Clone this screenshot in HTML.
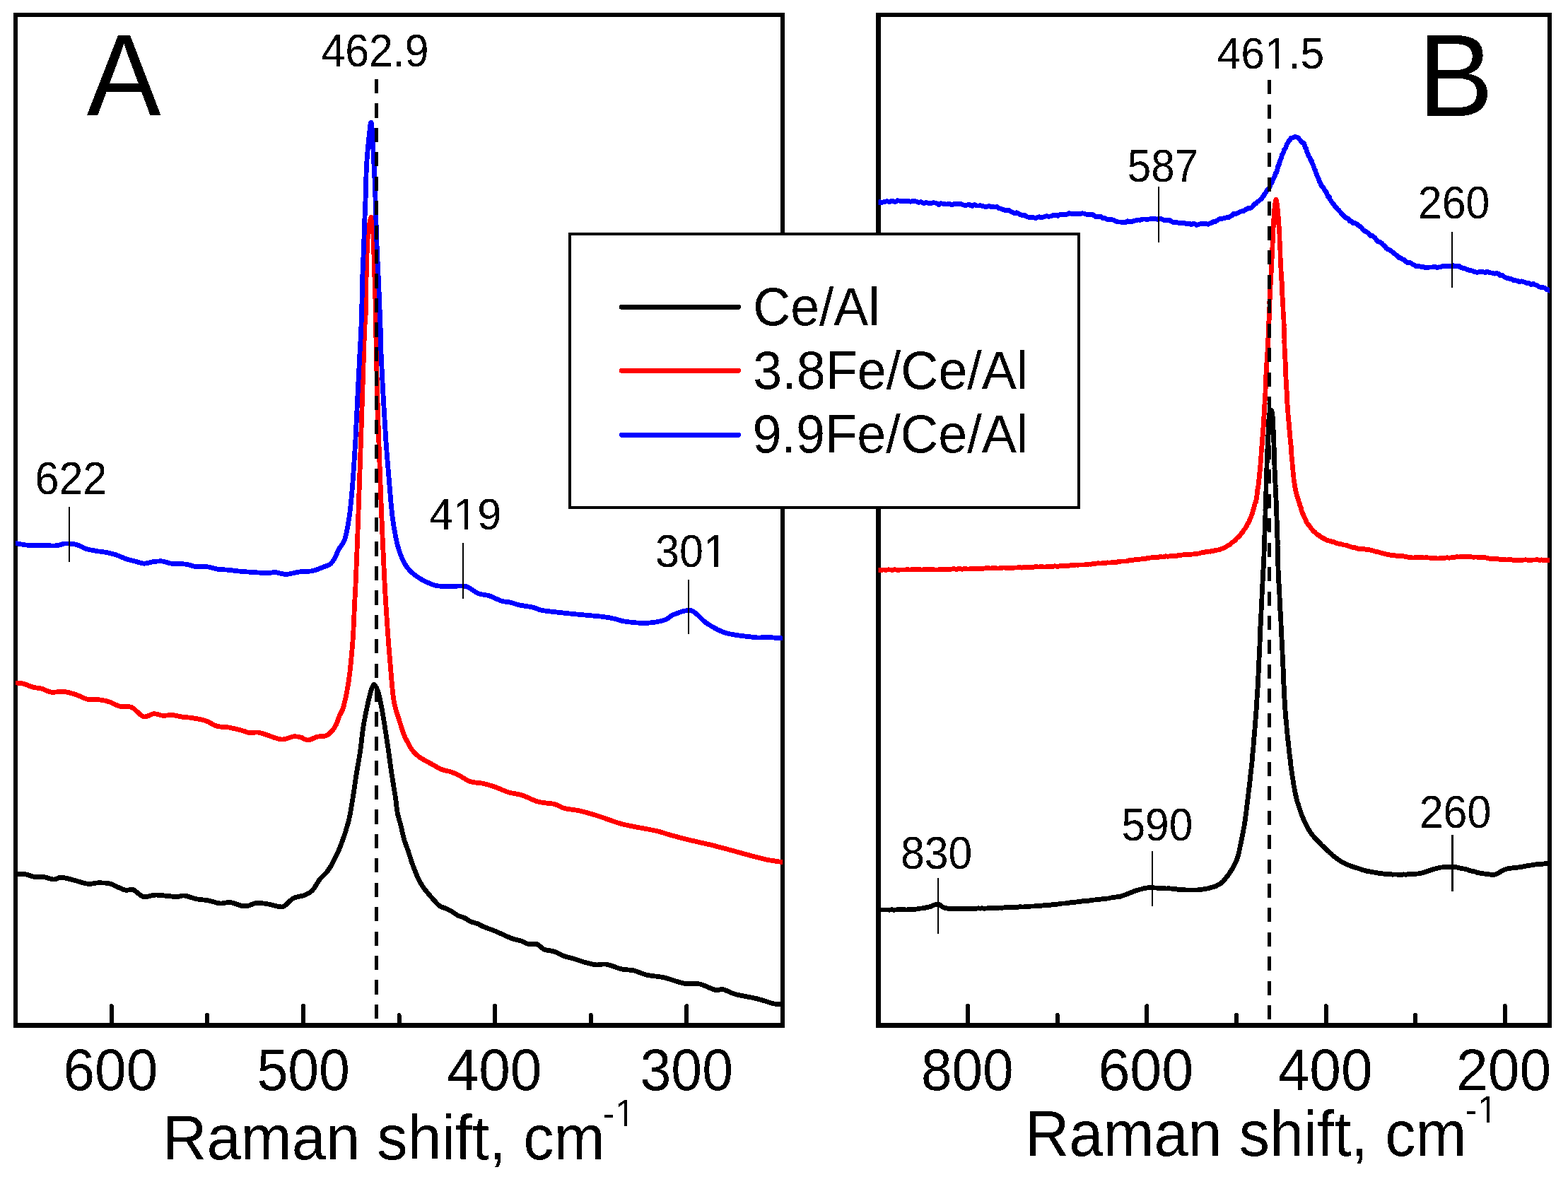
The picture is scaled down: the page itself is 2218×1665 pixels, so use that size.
<!DOCTYPE html>
<html><head><meta charset="utf-8"><title>Raman spectra</title>
<style>html,body{margin:0;padding:0;background:#fff;overflow:hidden}svg{display:block}</style>
</head><body>
<svg width="2218" height="1665" viewBox="0 0 2218 1665" shape-rendering="crispEdges">
<rect x="0" y="0" width="2218" height="1665" fill="#fff"/>
<defs><clipPath id="cl"><rect x="22" y="21" width="1085" height="1429"/></clipPath><clipPath id="cr"><rect x="1242.5" y="21" width="949.5" height="1429"/></clipPath><filter id="bin" x="-2%" y="-2%" width="104%" height="104%" color-interpolation-filters="sRGB"><feComponentTransfer><feFuncA type="discrete" tableValues="0 1"/></feComponentTransfer></filter></defs>
<line x1="157.6" y1="1423" x2="157.6" y2="1450" stroke="#000" stroke-width="6" stroke-linecap="round"/>
<line x1="428.9" y1="1423" x2="428.9" y2="1450" stroke="#000" stroke-width="6" stroke-linecap="round"/>
<line x1="700.1" y1="1423" x2="700.1" y2="1450" stroke="#000" stroke-width="6" stroke-linecap="round"/>
<line x1="971.4" y1="1423" x2="971.4" y2="1450" stroke="#000" stroke-width="6" stroke-linecap="round"/>
<line x1="293.2" y1="1436" x2="293.2" y2="1450" stroke="#000" stroke-width="6" stroke-linecap="round"/>
<line x1="564.5" y1="1436" x2="564.5" y2="1450" stroke="#000" stroke-width="6" stroke-linecap="round"/>
<line x1="835.8" y1="1436" x2="835.8" y2="1450" stroke="#000" stroke-width="6" stroke-linecap="round"/>
<line x1="1369.2" y1="1423" x2="1369.2" y2="1450" stroke="#000" stroke-width="6" stroke-linecap="round"/>
<line x1="1622.4" y1="1423" x2="1622.4" y2="1450" stroke="#000" stroke-width="6" stroke-linecap="round"/>
<line x1="1875.6" y1="1423" x2="1875.6" y2="1450" stroke="#000" stroke-width="6" stroke-linecap="round"/>
<line x1="2128.8" y1="1423" x2="2128.8" y2="1450" stroke="#000" stroke-width="6" stroke-linecap="round"/>
<line x1="1495.8" y1="1436" x2="1495.8" y2="1450" stroke="#000" stroke-width="6" stroke-linecap="round"/>
<line x1="1749.0" y1="1436" x2="1749.0" y2="1450" stroke="#000" stroke-width="6" stroke-linecap="round"/>
<line x1="2002.2" y1="1436" x2="2002.2" y2="1450" stroke="#000" stroke-width="6" stroke-linecap="round"/>
<rect x="19" y="18" width="1091" height="6" fill="#000"/>
<rect x="19" y="1447" width="1091" height="7" fill="#000"/>
<rect x="19" y="18" width="6" height="1436" fill="#000"/>
<rect x="1104" y="18" width="6" height="1436" fill="#000"/>
<rect x="1239" y="18" width="956" height="6" fill="#000"/>
<rect x="1239" y="1447" width="956" height="7" fill="#000"/>
<rect x="1239" y="18" width="7" height="1436" fill="#000"/>
<rect x="2189" y="18" width="6" height="1436" fill="#000"/>
<path d="M22.0,1236.4 C24.1,1236.4 30.1,1235.7 34.6,1236.4 C39.1,1237.1 44.6,1239.8 49.1,1240.5 C53.6,1241.2 57.1,1239.9 61.6,1240.5 C66.1,1241.1 71.9,1244.0 76.1,1244.1 C80.2,1244.2 82.0,1241.1 86.5,1241.2 C91.0,1241.3 97.0,1243.2 103.2,1244.7 C109.5,1246.2 118.1,1249.6 124.0,1250.3 C129.9,1251.0 133.3,1249.0 138.5,1248.9 C143.7,1248.8 150.7,1249.0 155.2,1249.9 C159.7,1250.8 161.8,1252.9 165.6,1254.5 C169.4,1256.1 174.2,1258.6 178.0,1259.3 C181.8,1260.0 184.2,1257.0 188.4,1258.6 C192.6,1260.1 197.8,1267.3 203.0,1268.6 C208.2,1269.8 213.7,1266.3 219.6,1266.1 C225.5,1265.9 233.1,1267.2 238.3,1267.6 C243.5,1268.0 247.0,1268.7 250.8,1268.6 C254.6,1268.5 256.7,1266.5 261.2,1267.0 C265.7,1267.5 272.2,1270.6 277.8,1271.7 C283.4,1272.8 288.9,1272.8 294.5,1273.8 C300.1,1274.8 305.9,1277.5 311.1,1278.0 C316.3,1278.5 320.5,1275.9 325.7,1276.5 C330.9,1277.1 338.1,1280.7 342.3,1281.5 C346.5,1282.3 347.1,1282.2 350.6,1281.5 C354.1,1280.8 358.2,1277.8 363.1,1277.4 C368.0,1277.0 374.1,1278.1 379.7,1279.0 C385.2,1279.9 392.6,1282.4 396.4,1282.8 C400.2,1283.2 399.5,1283.5 402.6,1281.5 C405.7,1279.5 410.2,1273.3 415.1,1270.7 C420.0,1268.1 427.2,1268.0 431.7,1266.1 C436.2,1264.2 438.6,1263.0 442.1,1259.3 C445.6,1255.6 449.2,1247.9 452.5,1243.7 C455.8,1239.5 459.1,1237.7 462.0,1234.0 C464.9,1230.3 466.8,1227.8 470.1,1221.5 C473.4,1215.2 478.1,1206.0 481.9,1196.2 C485.7,1186.4 490.0,1173.7 492.9,1162.4 C495.8,1151.2 497.2,1139.9 499.1,1128.7 C501.0,1117.5 502.4,1106.2 504.2,1095.0 C506.0,1083.8 508.2,1072.5 509.8,1061.2 C511.4,1050.0 512.2,1038.8 514.0,1027.5 C515.8,1016.2 518.9,1002.1 520.7,993.7 C522.5,985.3 523.5,981.1 524.9,976.9 C526.3,972.7 527.7,968.5 529.2,968.5 C530.8,968.5 532.7,972.7 534.2,976.9 C535.7,981.1 536.7,985.3 538.4,993.7 C540.1,1002.1 542.5,1016.2 544.3,1027.5 C546.1,1038.8 547.8,1050.0 549.4,1061.2 C551.0,1072.5 552.4,1083.8 554.1,1095.0 C555.8,1106.2 558.1,1119.5 559.5,1128.7 C560.9,1137.9 560.9,1143.4 562.2,1150.0 C563.5,1156.6 565.6,1162.1 567.1,1168.1 C568.6,1174.1 569.5,1180.2 571.2,1186.2 C572.9,1192.2 575.5,1198.2 577.5,1204.2 C579.5,1210.2 581.2,1216.3 583.4,1222.3 C585.6,1228.3 588.2,1235.1 590.6,1240.4 C593.0,1245.7 594.9,1249.5 597.9,1254.0 C600.9,1258.5 604.8,1263.0 608.7,1267.5 C612.6,1272.0 617.9,1278.2 621.4,1281.1 C624.9,1284.0 627.1,1283.5 630.0,1284.9 C632.9,1286.3 636.0,1287.7 639.0,1289.4 C642.0,1291.1 645.1,1293.8 648.1,1295.3 C651.1,1296.8 654.1,1297.1 657.1,1298.5 C660.1,1299.9 663.2,1302.6 666.2,1303.9 C669.2,1305.2 672.2,1305.4 675.2,1306.6 C678.2,1307.8 680.4,1309.5 684.2,1311.1 C688.0,1312.7 693.3,1314.3 697.8,1316.1 C702.3,1317.9 706.9,1320.0 711.4,1322.0 C715.9,1324.0 720.4,1326.3 724.9,1327.9 C729.4,1329.5 734.7,1330.2 738.5,1331.5 C742.3,1332.8 744.0,1334.9 747.5,1335.6 C751.0,1336.3 755.5,1334.3 759.3,1335.6 C763.1,1336.9 766.0,1341.5 770.1,1343.2 C774.2,1344.9 779.2,1344.5 783.7,1346.0 C788.2,1347.5 792.8,1350.6 797.3,1352.3 C801.8,1354.0 805.5,1354.3 810.8,1355.9 C816.1,1357.5 823.4,1360.3 828.9,1361.8 C834.4,1363.3 838.7,1364.5 843.5,1364.9 C848.3,1365.3 851.9,1363.2 857.9,1364.2 C863.9,1365.2 873.1,1369.5 879.5,1370.9 C885.9,1372.4 890.2,1371.5 896.2,1372.9 C902.2,1374.3 908.2,1377.6 915.4,1379.3 C922.6,1381.0 930.6,1380.9 939.4,1382.9 C948.2,1384.9 959.7,1389.8 968.1,1391.3 C976.5,1392.8 982.5,1390.5 989.7,1392.0 C996.9,1393.5 1005.6,1398.9 1011.2,1400.2 C1016.8,1401.5 1018.4,1398.7 1023.2,1399.7 C1028.0,1400.7 1032.0,1404.2 1040.0,1406.4 C1048.0,1408.6 1061.9,1410.6 1071.1,1412.9 C1080.3,1415.2 1089.1,1418.7 1095.1,1420.0 C1101.1,1421.3 1105.0,1420.8 1107.0,1421.0" fill="none" stroke="#000" stroke-width="6.8" stroke-linejoin="round" stroke-linecap="round" clip-path="url(#cl)"/>
<path d="M22.1,966.0 C23.8,966.2 28.4,966.0 32.5,967.0 C36.6,968.0 42.5,971.0 47.0,972.2 C51.5,973.4 55.3,973.1 59.5,974.3 C63.7,975.4 66.8,978.4 72.0,979.1 C77.2,979.8 84.8,977.9 90.7,978.5 C96.6,979.1 101.8,980.8 107.3,982.6 C112.8,984.4 118.5,988.1 124.0,989.3 C129.6,990.5 135.4,989.3 140.6,989.9 C145.8,990.5 150.3,991.4 155.2,993.0 C160.0,994.6 164.5,998.0 169.7,999.3 C174.9,1000.6 180.8,998.3 186.4,1000.7 C192.0,1003.1 197.8,1012.3 203.0,1013.8 C208.2,1015.3 213.0,1010.0 217.5,1009.7 C222.0,1009.4 225.5,1011.9 230.0,1012.2 C234.5,1012.5 239.8,1011.3 244.6,1011.7 C249.4,1012.1 255.0,1013.8 259.1,1014.4 C263.2,1015.0 264.3,1014.5 269.5,1015.3 C274.7,1016.1 284.1,1017.4 290.3,1019.4 C296.6,1021.4 301.4,1025.7 307.0,1027.3 C312.6,1028.9 317.4,1027.9 323.6,1029.0 C329.8,1030.1 339.5,1032.7 344.4,1034.0 C349.2,1035.3 349.2,1036.4 352.7,1036.7 C356.2,1037.0 361.0,1035.6 365.2,1036.1 C369.4,1036.6 372.1,1038.1 377.7,1039.8 C383.2,1041.5 392.3,1045.7 398.5,1046.0 C404.7,1046.3 410.6,1042.4 415.1,1041.9 C419.6,1041.4 422.0,1042.1 425.5,1043.0 C429.0,1043.9 432.1,1047.2 435.9,1047.1 C439.7,1047.0 444.2,1043.3 448.4,1042.3 C452.5,1041.3 457.3,1042.2 460.8,1040.9 C464.3,1039.6 466.8,1037.2 469.2,1034.6 C471.6,1032.0 473.6,1028.9 475.4,1025.3 C477.2,1021.7 478.2,1017.4 480.0,1013.0 C481.8,1008.6 484.0,1007.2 486.2,998.8 C488.4,990.4 491.3,977.8 493.4,962.7 C495.5,947.6 497.5,926.5 498.9,908.4 C500.3,890.3 500.8,869.4 501.6,854.2 C502.4,839.0 502.6,837.7 503.5,817.0 C504.4,796.3 505.8,759.1 506.8,730.2 C507.9,701.3 508.8,672.4 509.8,643.5 C510.8,614.6 511.8,585.6 512.7,556.7 C513.7,527.8 514.8,487.9 515.5,470.0 C516.2,452.1 516.6,459.3 517.0,449.4 C517.4,439.5 517.5,423.7 517.8,410.8 C518.1,397.9 518.1,385.1 518.6,372.2 C519.1,359.3 519.4,344.4 520.5,333.6 C521.6,322.8 523.7,307.5 525.0,307.5 C526.3,307.5 527.4,322.8 528.1,333.6 C528.8,344.4 528.8,359.3 529.2,372.2 C529.6,385.1 530.2,397.9 530.6,410.8 C531.0,423.7 531.2,438.1 531.4,449.4 C531.6,460.6 531.5,460.4 531.9,478.3 C532.3,496.2 532.9,529.2 533.7,556.7 C534.5,584.2 535.5,614.6 536.5,643.5 C537.5,672.4 538.6,701.3 539.8,730.2 C541.0,759.1 542.7,796.3 543.7,817.0 C544.7,837.7 544.8,839.0 545.8,854.2 C546.8,869.4 548.1,890.3 549.5,908.4 C550.9,926.5 552.8,949.3 554.0,962.7 C555.2,976.1 555.7,982.1 556.7,989.0 C557.7,995.9 558.8,999.5 560.0,1004.0 C561.2,1008.5 562.0,1010.4 563.9,1016.2 C565.8,1022.0 568.8,1032.8 571.1,1038.8 C573.4,1044.8 575.9,1048.5 577.9,1052.3 C579.9,1056.1 580.9,1058.4 583.3,1061.4 C585.7,1064.4 589.4,1068.0 592.4,1070.4 C595.4,1072.8 598.2,1074.0 601.4,1075.8 C604.6,1077.6 607.5,1079.2 611.4,1081.3 C615.3,1083.4 620.4,1086.7 624.9,1088.5 C629.4,1090.3 634.3,1090.6 638.5,1092.1 C642.7,1093.6 645.8,1095.2 650.3,1097.5 C654.8,1099.8 660.0,1103.9 665.6,1105.7 C671.2,1107.5 677.7,1107.1 683.7,1108.4 C689.7,1109.8 695.8,1111.7 701.8,1113.8 C707.8,1115.9 713.8,1119.2 719.9,1121.0 C726.0,1122.8 731.4,1122.7 738.3,1124.9 C745.2,1127.1 753.7,1132.1 761.4,1134.2 C769.1,1136.3 778.4,1136.1 784.5,1137.6 C790.6,1139.1 792.5,1141.9 798.3,1143.4 C804.0,1144.9 811.3,1145.1 819.0,1146.8 C826.7,1148.5 834.8,1150.8 844.4,1153.8 C854.0,1156.8 867.5,1162.1 876.7,1164.8 C885.9,1167.5 890.9,1168.1 899.7,1169.9 C908.5,1171.7 921.2,1173.7 929.7,1175.7 C938.2,1177.7 942.0,1179.6 950.5,1181.9 C959.0,1184.2 971.2,1187.3 980.4,1189.5 C989.6,1191.7 996.9,1193.1 1005.8,1195.3 C1014.6,1197.5 1024.3,1200.1 1033.5,1202.6 C1042.7,1205.1 1052.8,1208.0 1061.2,1210.2 C1069.7,1212.4 1076.6,1214.4 1084.2,1216.0 C1091.8,1217.6 1103.2,1219.0 1107.0,1219.6" fill="none" stroke="#f00" stroke-width="6.8" stroke-linejoin="round" stroke-linecap="round" clip-path="url(#cl)"/>
<path d="M22.1,768.5 C24.9,769.0 32.8,770.7 38.7,771.2 C44.6,771.7 50.5,771.5 57.4,771.6 C64.3,771.7 74.8,772.2 80.3,771.8 C85.8,771.4 86.9,769.5 90.7,769.1 C94.5,768.7 99.7,769.1 103.2,769.5 C106.7,769.9 108.4,770.5 111.5,771.6 C114.6,772.8 117.8,775.1 121.9,776.4 C126.1,777.7 131.9,778.7 136.4,779.5 C140.9,780.3 144.4,780.3 148.9,781.2 C153.4,782.1 158.7,783.2 163.5,784.7 C168.3,786.2 173.2,788.9 178.0,790.5 C182.8,792.1 188.3,793.4 192.6,794.5 C196.9,795.6 199.8,797.2 204.0,797.2 C208.2,797.2 213.2,795.0 217.5,794.5 C221.8,794.0 225.8,793.5 230.0,794.0 C234.2,794.5 236.9,796.5 242.5,797.2 C248.1,797.9 257.8,797.5 263.3,798.2 C268.9,798.9 270.6,800.7 275.8,801.3 C281.0,801.9 289.0,801.3 294.5,802.0 C300.0,802.7 304.5,804.8 309.0,805.5 C313.5,806.2 316.3,805.6 321.5,806.1 C326.7,806.6 333.6,807.6 340.2,808.2 C346.8,808.8 354.8,809.3 361.0,809.7 C367.2,810.1 372.9,810.7 377.7,810.7 C382.5,810.7 385.5,809.4 390.0,809.7 C394.5,810.0 399.1,812.5 404.7,812.4 C410.3,812.3 417.2,809.8 423.4,809.0 C429.6,808.2 436.6,808.7 442.1,807.6 C447.7,806.5 452.6,804.0 456.7,802.4 C460.8,800.8 464.2,800.3 467.0,798.2 C469.8,796.1 471.2,793.5 473.3,789.9 C475.4,786.3 477.2,780.9 479.6,776.4 C482.0,771.9 485.3,770.5 487.7,762.8 C490.1,755.1 492.4,742.9 494.2,730.2 C496.0,717.6 497.2,705.0 498.6,686.9 C500.1,668.8 501.6,643.5 502.9,621.8 C504.1,600.1 505.0,578.4 506.1,556.7 C507.2,535.0 508.6,506.4 509.4,491.7 C510.2,477.0 510.3,479.0 510.7,468.7 C511.1,458.4 511.5,442.9 511.9,430.0 C512.2,417.1 512.4,404.3 512.8,391.5 C513.2,378.7 513.9,365.9 514.4,353.0 C514.9,340.1 515.2,327.2 515.7,314.3 C516.2,301.4 516.8,288.7 517.3,275.8 C517.8,262.9 517.7,249.9 518.4,237.0 C519.1,224.1 520.3,209.0 521.5,198.6 C522.7,188.2 524.1,168.1 525.4,174.5 C526.7,180.9 528.3,220.1 529.2,237.0 C530.1,253.9 530.3,262.9 530.8,275.8 C531.3,288.7 531.6,301.4 532.0,314.3 C532.4,327.2 532.8,340.1 533.3,353.0 C533.8,365.9 534.6,378.7 535.2,391.5 C535.8,404.3 536.3,417.1 536.8,430.0 C537.3,442.9 538.0,458.4 538.3,468.7 C538.6,479.0 538.1,477.0 538.7,491.7 C539.3,506.4 540.7,535.0 541.9,556.7 C543.1,578.4 544.3,600.1 545.8,621.8 C547.3,643.5 549.5,668.8 551.0,686.9 C552.5,705.0 553.4,717.6 555.0,730.2 C556.6,742.9 558.7,754.5 560.4,762.8 C562.1,771.1 563.0,774.2 565.0,780.0 C567.0,785.8 569.5,792.4 572.4,797.4 C575.3,802.4 578.2,806.0 582.4,809.8 C586.5,813.6 591.5,817.2 597.3,820.3 C603.1,823.4 609.8,827.0 617.2,828.5 C624.7,830.0 635.0,829.0 642.0,829.2 C649.0,829.4 653.7,828.0 659.5,829.7 C665.3,831.5 671.5,837.5 676.9,839.7 C682.3,841.9 686.4,841.0 691.8,842.7 C697.2,844.4 704.2,848.5 709.2,850.1 C714.2,851.7 717.5,851.2 721.6,852.1 C725.7,853.0 728.6,854.6 734.0,855.8 C739.4,857.0 748.5,857.9 753.9,859.1 C759.3,860.4 759.3,862.0 766.4,863.3 C773.5,864.6 787.1,866.0 796.2,867.0 C805.3,868.0 811.5,868.6 821.0,869.5 C830.5,870.4 845.1,871.5 853.4,872.5 C861.7,873.5 865.8,874.6 870.8,875.7 C875.8,876.8 876.2,878.0 883.2,879.0 C890.2,880.0 903.6,881.7 913.1,881.4 C922.6,881.1 933.8,879.0 940.4,877.0 C947.0,875.0 946.6,871.7 952.8,869.5 C959.0,867.3 969.8,861.7 977.7,863.8 C985.6,865.9 991.8,876.7 1000.1,882.0 C1008.4,887.3 1015.8,892.3 1027.4,895.6 C1039.0,898.9 1060.6,900.8 1069.7,901.8 C1078.8,902.8 1075.9,901.1 1082.1,901.3 C1088.3,901.5 1102.8,902.7 1107.0,903.0" fill="none" stroke="#00f" stroke-width="6.8" stroke-linejoin="round" stroke-linecap="round" clip-path="url(#cl)"/>
<path d="M1242.6,1287.0 L1244.0,1287.0 L1245.9,1287.0 L1247.9,1287.0 L1250.1,1287.0 L1252.7,1287.1 L1255.3,1286.9 L1258.1,1287.2 L1261.2,1286.7 L1264.3,1287.2 L1267.3,1287.0 L1270.2,1286.6 L1273.3,1286.6 L1276.2,1286.7 L1279.0,1286.8 L1281.8,1287.0 L1284.4,1286.8 L1286.7,1286.7 L1288.8,1286.4 L1292.6,1286.6 L1296.0,1286.1 L1298.9,1285.5 L1301.7,1285.1 L1304.4,1284.9 L1306.8,1284.5 L1309.0,1284.3 L1311.0,1283.5 L1313.3,1283.3 L1316.7,1282.3 L1319.3,1281.3 L1321.9,1280.0 L1324.1,1279.2 L1326.8,1279.3 L1328.8,1279.6 L1330.4,1280.8 L1332.4,1282.4 L1335.3,1284.0 L1340.0,1285.1 L1341.8,1285.2 L1343.7,1285.2 L1345.8,1285.2 L1348.3,1285.6 L1350.5,1285.7 L1353.0,1285.4 L1355.7,1285.6 L1358.2,1285.8 L1361.0,1285.3 L1364.0,1285.3 L1366.7,1285.1 L1369.5,1285.4 L1372.5,1285.3 L1375.4,1285.2 L1378.4,1285.2 L1381.1,1285.3 L1383.7,1284.8 L1386.6,1285.2 L1389.0,1284.8 L1391.6,1285.2 L1394.0,1285.1 L1396.7,1284.8 L1399.2,1284.5 L1401.6,1284.9 L1404.2,1284.7 L1406.8,1284.7 L1409.5,1284.3 L1412.0,1284.4 L1414.5,1284.0 L1417.2,1284.3 L1419.8,1283.9 L1422.5,1283.7 L1424.9,1283.6 L1427.6,1283.4 L1430.1,1283.5 L1432.7,1283.2 L1435.3,1283.5 L1438.0,1283.3 L1440.5,1283.1 L1442.9,1282.6 L1445.5,1283.0 L1448.2,1282.9 L1450.6,1282.6 L1453.3,1282.5 L1455.8,1282.5 L1458.3,1282.0 L1461.0,1282.1 L1463.6,1281.8 L1466.2,1281.8 L1468.6,1281.4 L1471.3,1281.4 L1473.8,1281.1 L1476.5,1280.8 L1479.0,1280.5 L1481.5,1280.4 L1484.0,1280.2 L1486.8,1280.1 L1489.3,1279.6 L1491.9,1279.4 L1494.4,1279.3 L1496.9,1279.0 L1499.4,1278.6 L1502.1,1278.1 L1504.7,1278.0 L1507.3,1278.0 L1509.8,1277.1 L1512.4,1277.2 L1514.9,1276.6 L1517.7,1276.6 L1520.1,1276.5 L1522.7,1276.0 L1525.2,1275.6 L1527.9,1275.6 L1530.5,1274.9 L1533.0,1274.6 L1535.5,1274.4 L1538.3,1274.3 L1541.0,1274.1 L1543.7,1273.3 L1546.5,1273.1 L1549.2,1272.9 L1552.1,1272.6 L1554.8,1272.5 L1557.7,1272.0 L1560.2,1271.4 L1563.1,1271.1 L1565.7,1271.1 L1568.2,1270.9 L1570.6,1270.2 L1573.1,1269.8 L1575.5,1269.5 L1577.6,1269.1 L1579.8,1268.9 L1581.8,1268.7 L1585.3,1268.1 L1588.4,1266.8 L1591.1,1265.9 L1593.4,1265.2 L1595.9,1264.1 L1597.9,1263.2 L1600.1,1262.4 L1602.1,1261.7 L1604.0,1261.0 L1606.3,1259.9 L1609.3,1259.3 L1611.8,1258.3 L1614.4,1257.9 L1616.9,1257.0 L1619.6,1256.6 L1622.5,1256.0 L1625.7,1255.5 L1628.1,1255.8 L1630.5,1255.7 L1633.0,1255.9 L1636.0,1256.1 L1638.6,1256.1 L1641.4,1256.4 L1644.4,1256.3 L1647.0,1256.6 L1649.8,1257.0 L1652.5,1256.8 L1655.1,1256.9 L1658.0,1257.2 L1660.7,1257.8 L1663.4,1257.6 L1666.2,1258.2 L1669.0,1258.4 L1671.6,1258.5 L1674.3,1258.5 L1676.7,1258.9 L1679.4,1259.0 L1682.3,1258.9 L1685.1,1259.0 L1687.7,1258.9 L1690.6,1259.1 L1693.2,1259.0 L1696.1,1258.7 L1698.7,1258.3 L1701.3,1258.1 L1703.9,1257.4 L1706.6,1257.2 L1709.0,1256.8 L1711.7,1256.0 L1714.2,1255.1 L1716.7,1254.5 L1719.2,1254.0 L1721.4,1252.7 L1723.6,1251.5 L1725.9,1250.5 L1727.8,1248.7 L1729.6,1247.3 L1731.5,1245.2 L1733.2,1243.2 L1734.6,1241.3 L1736.3,1239.3 L1737.7,1237.4 L1739.0,1235.4 L1740.4,1233.2 L1741.9,1230.8 L1743.4,1228.7 L1744.6,1226.5 L1745.9,1224.0 L1747.0,1221.9 L1748.2,1219.4 L1749.3,1216.7 L1750.4,1213.5 L1751.0,1211.7 L1751.7,1209.1 L1752.2,1207.1 L1752.8,1204.6 L1753.5,1201.4 L1753.9,1199.1 L1754.5,1196.1 L1755.2,1193.7 L1755.7,1190.9 L1756.1,1188.7 L1756.4,1186.1 L1757.0,1184.2 L1757.7,1180.8 L1758.2,1178.6 L1758.6,1176.2 L1759.0,1173.5 L1759.4,1171.1 L1760.0,1168.7 L1760.5,1165.4 L1760.9,1161.8 L1761.4,1160.2 L1761.7,1157.5 L1761.8,1155.7 L1762.2,1153.2 L1762.5,1150.6 L1762.9,1148.0 L1763.2,1145.1 L1763.6,1142.9 L1763.8,1139.9 L1764.3,1137.1 L1764.5,1134.2 L1764.9,1131.3 L1765.3,1128.9 L1765.6,1126.1 L1765.9,1123.1 L1766.2,1120.4 L1766.6,1118.2 L1766.7,1115.9 L1767.1,1113.5 L1767.4,1110.9 L1767.7,1108.9 L1767.9,1106.5 L1768.2,1103.9 L1768.5,1101.4 L1768.6,1099.2 L1768.8,1096.7 L1769.2,1094.4 L1769.4,1092.1 L1769.8,1089.1 L1770.1,1086.5 L1770.3,1083.6 L1770.7,1080.9 L1771.0,1078.0 L1771.3,1074.4 L1771.4,1072.7 L1771.5,1070.3 L1771.7,1067.9 L1772.0,1065.5 L1772.2,1063.6 L1772.5,1061.0 L1772.8,1058.6 L1773.0,1056.1 L1773.2,1053.2 L1773.4,1051.1 L1773.5,1048.6 L1773.7,1045.7 L1773.9,1043.1 L1774.3,1040.2 L1774.6,1037.7 L1774.7,1035.2 L1774.9,1032.3 L1775.1,1029.8 L1775.3,1027.2 L1775.5,1024.1 L1775.7,1021.4 L1775.9,1019.2 L1776.1,1016.6 L1776.4,1013.5 L1776.7,1011.4 L1776.6,1008.8 L1776.9,1006.0 L1777.2,1003.3 L1777.3,1001.2 L1777.5,998.3 L1777.7,996.0 L1777.8,993.0 L1777.9,990.7 L1778.0,987.9 L1778.2,985.4 L1778.4,983.2 L1778.5,980.4 L1778.7,978.0 L1778.9,975.5 L1779.1,973.2 L1779.1,970.2 L1779.1,968.1 L1779.4,965.4 L1779.5,962.6 L1779.7,960.2 L1779.8,957.7 L1780.0,954.9 L1780.0,952.8 L1780.3,950.2 L1780.2,947.2 L1780.4,944.9 L1780.6,942.1 L1780.7,939.6 L1780.7,937.4 L1780.9,934.8 L1781.0,932.2 L1781.1,929.6 L1781.3,927.3 L1781.3,924.4 L1781.6,922.1 L1781.7,919.3 L1781.7,916.8 L1781.9,914.4 L1782.0,912.2 L1782.0,909.4 L1782.2,907.1 L1782.3,904.2 L1782.3,902.0 L1782.4,898.9 L1782.6,896.6 L1782.7,894.0 L1782.9,891.3 L1782.8,889.1 L1782.9,886.4 L1783.2,884.1 L1783.2,881.2 L1783.3,879.0 L1783.4,876.1 L1783.6,873.8 L1783.8,871.5 L1783.9,868.7 L1784.0,866.0 L1784.0,863.5 L1784.3,861.2 L1784.2,858.2 L1784.4,855.6 L1784.5,852.9 L1784.6,850.3 L1784.9,847.6 L1785.0,844.9 L1785.0,842.3 L1785.3,839.4 L1785.3,836.8 L1785.5,834.2 L1785.8,831.6 L1785.8,828.6 L1785.9,826.4 L1785.9,823.4 L1786.2,821.3 L1786.2,818.6 L1786.3,816.2 L1786.6,813.4 L1786.6,811.4 L1786.8,809.0 L1786.9,806.4 L1787.1,804.4 L1787.1,802.1 L1787.3,800.1 L1787.4,796.7 L1787.6,793.9 L1787.7,791.1 L1787.8,788.4 L1788.0,785.6 L1788.0,783.1 L1788.1,780.5 L1788.2,778.0 L1788.3,776.2 L1788.3,773.4 L1788.4,771.2 L1788.5,769.2 L1788.5,766.4 L1788.6,764.2 L1788.9,761.4 L1788.8,758.9 L1789.0,756.4 L1789.0,753.5 L1789.1,751.1 L1789.2,748.8 L1789.4,745.8 L1789.3,743.2 L1789.4,740.7 L1789.5,737.8 L1789.7,735.0 L1789.7,732.4 L1789.9,729.3 L1789.9,726.9 L1790.0,723.8 L1789.9,721.5 L1790.2,718.5 L1790.2,716.0 L1790.2,713.8 L1790.3,710.9 L1790.3,708.8 L1790.4,706.8 L1790.6,704.6 L1790.5,700.8 L1790.7,697.7 L1790.9,695.0 L1790.9,692.6 L1790.9,689.8 L1790.9,687.6 L1791.0,685.3 L1791.2,683.1 L1791.1,680.4 L1791.4,677.9 L1791.4,675.6 L1791.6,673.0 L1791.7,670.2 L1791.7,667.7 L1791.8,664.8 L1791.9,662.3 L1791.9,659.9 L1791.9,657.4 L1792.1,654.5 L1792.1,651.8 L1792.3,649.5 L1792.4,646.8 L1792.4,644.0 L1792.6,641.7 L1792.8,638.9 L1792.8,636.1 L1793.1,633.4 L1793.1,630.9 L1793.1,628.6 L1793.5,625.5 L1793.6,622.9 L1793.6,620.5 L1793.8,617.7 L1793.9,615.2 L1794.0,612.1 L1794.2,609.3 L1794.4,606.5 L1794.5,603.4 L1794.6,600.4 L1794.6,597.7 L1794.8,595.4 L1794.9,592.8 L1795.2,590.8 L1795.2,588.7 L1796.1,583.7 L1797.1,581.0 L1798.1,580.5 L1798.8,581.4 L1799.5,584.2 L1800.1,588.8 L1800.2,590.5 L1800.4,593.0 L1800.7,595.5 L1800.7,598.0 L1800.7,600.5 L1800.9,603.6 L1801.0,606.4 L1801.2,609.5 L1801.4,612.3 L1801.3,615.3 L1801.6,617.8 L1801.6,620.4 L1801.6,623.2 L1801.9,625.7 L1801.9,628.5 L1801.9,631.2 L1802.1,633.4 L1802.1,636.0 L1802.3,638.9 L1802.3,641.7 L1802.4,644.1 L1802.4,647.0 L1802.5,649.6 L1802.7,652.0 L1802.8,654.4 L1802.9,657.5 L1803.0,659.9 L1802.9,662.7 L1803.1,665.3 L1803.1,667.8 L1803.4,670.2 L1803.4,672.7 L1803.4,675.4 L1803.7,678.4 L1803.8,680.4 L1803.9,683.0 L1803.9,685.2 L1804.2,687.2 L1804.1,689.8 L1804.3,692.2 L1804.5,694.8 L1804.6,697.7 L1804.8,700.9 L1804.9,704.2 L1805.0,706.4 L1805.2,708.8 L1805.2,711.0 L1805.3,713.6 L1805.4,716.2 L1805.5,718.9 L1805.6,721.4 L1805.6,723.9 L1805.8,726.9 L1805.9,729.4 L1806.0,732.4 L1806.0,734.7 L1806.2,738.0 L1806.3,740.6 L1806.4,743.2 L1806.5,745.7 L1806.5,748.6 L1806.6,751.2 L1806.6,753.9 L1806.8,756.0 L1806.8,758.9 L1806.9,761.3 L1807.1,764.4 L1807.1,766.7 L1807.1,769.1 L1807.1,771.4 L1807.2,773.8 L1807.1,776.0 L1807.1,778.2 L1807.4,780.3 L1807.2,782.9 L1807.3,785.3 L1807.5,788.3 L1807.5,790.8 L1807.6,793.5 L1807.6,797.0 L1807.8,800.0 L1808.0,802.4 L1808.0,804.1 L1808.0,806.8 L1808.3,808.7 L1808.4,811.1 L1808.4,813.4 L1808.6,816.3 L1808.6,818.6 L1808.7,821.3 L1808.8,823.4 L1809.1,826.1 L1809.3,829.1 L1809.4,831.3 L1809.5,834.4 L1809.6,836.6 L1809.7,839.4 L1810.0,842.0 L1810.0,844.7 L1810.2,847.8 L1810.3,850.4 L1810.6,853.0 L1810.6,855.5 L1810.9,858.4 L1810.8,861.0 L1810.9,863.8 L1811.2,866.2 L1811.3,868.4 L1811.5,871.1 L1811.5,874.0 L1811.6,876.2 L1811.9,878.7 L1811.9,881.4 L1812.0,884.2 L1812.3,886.2 L1812.3,889.2 L1812.4,891.8 L1812.6,893.9 L1812.7,896.7 L1812.8,899.3 L1813.0,901.7 L1813.1,904.5 L1813.2,906.8 L1813.4,909.2 L1813.5,911.7 L1813.6,914.3 L1813.7,917.1 L1813.9,919.7 L1813.9,922.0 L1814.0,924.6 L1814.2,926.9 L1814.3,929.8 L1814.5,932.4 L1814.5,934.5 L1814.6,937.3 L1814.8,939.8 L1814.9,942.6 L1815.0,945.2 L1815.2,947.5 L1815.4,949.9 L1815.3,952.4 L1815.4,955.0 L1815.6,957.7 L1815.6,960.2 L1815.7,962.9 L1815.8,965.1 L1815.9,967.9 L1816.2,970.5 L1816.1,972.9 L1816.3,975.3 L1816.6,977.7 L1816.6,980.7 L1816.8,982.9 L1816.8,985.8 L1816.9,988.0 L1817.2,990.5 L1817.2,993.2 L1817.4,995.6 L1817.5,998.7 L1817.8,1001.1 L1817.8,1003.3 L1818.1,1005.8 L1818.3,1008.8 L1818.5,1011.0 L1818.8,1013.8 L1818.8,1016.3 L1819.2,1018.8 L1819.4,1021.8 L1819.7,1024.4 L1820.0,1027.0 L1820.1,1030.0 L1820.4,1032.6 L1820.6,1035.0 L1820.9,1037.8 L1821.1,1040.3 L1821.4,1043.1 L1821.7,1045.7 L1822.1,1048.5 L1822.4,1050.8 L1822.5,1053.2 L1822.9,1055.9 L1823.1,1058.2 L1823.3,1060.8 L1823.6,1063.6 L1824.0,1065.6 L1824.2,1067.9 L1824.6,1070.3 L1824.8,1072.7 L1825.1,1074.4 L1825.3,1077.8 L1825.7,1081.1 L1826.1,1084.0 L1826.5,1086.5 L1826.9,1089.5 L1827.2,1092.2 L1827.7,1094.8 L1828.0,1097.7 L1828.5,1100.0 L1828.9,1102.6 L1829.3,1105.3 L1829.5,1107.3 L1829.9,1109.9 L1830.3,1112.0 L1830.8,1114.1 L1831.1,1116.2 L1831.4,1118.1 L1831.8,1120.5 L1832.6,1124.0 L1833.4,1126.8 L1834.0,1130.0 L1834.6,1132.5 L1835.4,1135.2 L1836.2,1137.0 L1836.8,1139.2 L1837.5,1141.5 L1838.1,1143.6 L1838.9,1145.8 L1839.8,1148.5 L1840.8,1151.3 L1841.7,1153.9 L1842.7,1155.9 L1843.7,1158.4 L1844.6,1160.8 L1845.8,1163.0 L1846.9,1165.0 L1848.0,1167.4 L1849.0,1169.7 L1850.2,1171.9 L1851.5,1174.0 L1852.8,1176.1 L1854.3,1178.3 L1855.9,1180.3 L1857.2,1182.3 L1858.8,1184.0 L1860.5,1186.2 L1862.2,1187.9 L1864.2,1189.9 L1866.1,1191.9 L1868.1,1193.8 L1869.7,1195.7 L1871.6,1197.2 L1873.4,1198.8 L1875.1,1200.9 L1877.1,1202.7 L1879.3,1204.4 L1881.1,1206.3 L1883.2,1208.0 L1884.9,1209.9 L1886.9,1211.2 L1888.7,1212.9 L1891.0,1214.6 L1893.1,1216.2 L1895.1,1217.3 L1896.9,1218.8 L1898.9,1219.9 L1901.1,1221.0 L1903.5,1222.1 L1905.8,1223.2 L1908.1,1224.1 L1910.5,1224.9 L1913.1,1226.0 L1915.5,1226.7 L1918.2,1227.6 L1921.0,1228.4 L1923.6,1229.2 L1926.3,1230.4 L1929.0,1231.0 L1931.8,1231.7 L1934.2,1232.5 L1936.9,1232.6 L1939.4,1233.4 L1942.1,1233.8 L1944.6,1234.2 L1947.2,1234.6 L1949.6,1235.2 L1952.3,1235.6 L1954.8,1235.7 L1957.4,1236.1 L1960.1,1236.4 L1962.5,1236.4 L1965.2,1236.5 L1967.6,1236.6 L1970.3,1237.2 L1973.0,1236.9 L1975.5,1237.1 L1978.1,1237.1 L1980.7,1237.5 L1983.1,1237.3 L1985.7,1236.9 L1988.3,1237.3 L1991.1,1236.8 L1993.5,1236.7 L1996.1,1236.8 L1998.7,1236.6 L2001.3,1236.7 L2003.8,1236.1 L2006.5,1236.0 L2009.1,1235.3 L2011.6,1234.9 L2014.3,1234.0 L2016.8,1233.2 L2019.7,1232.4 L2022.2,1231.4 L2024.8,1230.5 L2027.4,1229.7 L2030.0,1229.0 L2032.3,1228.4 L2034.7,1227.8 L2037.8,1227.1 L2041.0,1226.8 L2043.8,1226.4 L2046.7,1226.6 L2049.3,1226.4 L2052.0,1226.1 L2054.6,1226.1 L2057.6,1226.4 L2060.6,1226.8 L2063.3,1227.5 L2066.2,1228.2 L2069.1,1228.8 L2071.5,1229.0 L2073.7,1229.6 L2076.2,1230.3 L2078.8,1231.5 L2081.3,1232.1 L2083.7,1232.6 L2086.4,1233.1 L2088.8,1234.2 L2091.4,1234.7 L2093.9,1235.3 L2096.6,1235.8 L2099.1,1235.9 L2101.4,1236.4 L2103.5,1236.7 L2106.9,1236.9 L2109.7,1237.3 L2112.5,1237.3 L2115.5,1237.0 L2117.6,1236.1 L2119.8,1234.7 L2122.1,1233.4 L2124.2,1232.1 L2126.8,1230.7 L2129.3,1229.9 L2131.8,1229.0 L2134.3,1228.4 L2137.0,1228.2 L2139.8,1227.8 L2143.0,1227.3 L2146.4,1227.2 L2148.6,1226.8 L2151.1,1226.3 L2153.6,1226.1 L2156.4,1225.6 L2159.1,1224.9 L2161.9,1224.3 L2164.6,1224.2 L2167.4,1223.7 L2169.7,1223.3 L2172.3,1222.9 L2175.5,1222.6 L2178.9,1222.1 L2182.2,1222.2 L2185.3,1221.7 L2188.0,1221.4 L2190.2,1221.4 L2192.0,1221.0" fill="none" stroke="#000" stroke-width="6.8" stroke-linejoin="round" stroke-linecap="round" clip-path="url(#cr)"/>
<path d="M1242.6,806.4 L1244.2,806.8 L1245.8,805.9 L1247.6,806.3 L1249.7,806.0 L1251.9,806.2 L1254.4,806.2 L1256.9,805.8 L1259.9,806.1 L1262.6,806.4 L1265.5,805.7 L1268.6,806.2 L1271.6,806.2 L1274.7,805.9 L1277.6,805.9 L1280.4,806.1 L1283.2,805.5 L1286.1,806.1 L1288.8,805.8 L1291.4,805.6 L1293.7,805.7 L1296.5,805.5 L1298.8,805.4 L1301.3,805.6 L1304.1,806.1 L1306.6,805.6 L1309.1,805.5 L1311.9,805.8 L1314.3,805.3 L1317.1,805.9 L1319.7,805.4 L1322.2,806.0 L1324.8,806.0 L1327.2,806.0 L1329.8,805.4 L1332.4,805.8 L1335.2,805.9 L1337.8,805.8 L1340.3,805.8 L1342.9,805.1 L1345.6,805.1 L1347.9,804.8 L1350.5,804.8 L1353.3,805.5 L1355.6,804.6 L1358.3,804.6 L1360.8,805.2 L1363.3,804.7 L1366.1,804.7 L1368.5,805.1 L1371.2,805.0 L1373.7,804.4 L1376.3,804.8 L1378.9,804.1 L1381.3,804.2 L1384.0,804.3 L1386.5,804.5 L1388.9,804.3 L1391.6,804.1 L1394.3,803.8 L1397.0,803.5 L1399.4,803.9 L1401.8,803.9 L1404.5,803.7 L1407.1,803.2 L1409.6,803.9 L1412.0,804.0 L1414.6,803.7 L1417.2,803.4 L1419.9,803.0 L1422.5,803.3 L1425.1,803.3 L1427.6,803.2 L1430.1,803.5 L1432.6,803.4 L1435.4,803.0 L1438.0,803.1 L1440.5,802.7 L1442.9,802.6 L1445.5,803.2 L1448.1,802.5 L1450.7,802.9 L1453.3,802.6 L1455.7,802.2 L1458.2,802.1 L1460.9,802.7 L1463.5,801.9 L1466.1,801.8 L1468.7,802.0 L1471.4,801.8 L1474.0,801.7 L1476.6,802.0 L1478.8,802.0 L1481.4,801.5 L1484.0,801.8 L1486.5,801.6 L1489.2,801.4 L1491.7,800.7 L1494.6,801.2 L1496.8,801.3 L1499.7,800.4 L1501.9,800.7 L1504.5,800.7 L1507.3,800.5 L1509.9,800.4 L1512.5,800.1 L1515.0,799.6 L1517.4,799.2 L1520.3,799.2 L1522.7,799.1 L1525.3,799.2 L1528.0,798.9 L1530.4,798.9 L1533.1,799.0 L1535.5,798.8 L1538.3,798.7 L1540.6,798.0 L1543.4,798.2 L1545.7,797.6 L1548.5,797.8 L1551.0,797.1 L1553.5,796.8 L1556.0,797.0 L1558.8,796.9 L1561.2,796.4 L1563.8,796.6 L1566.4,795.9 L1569.1,796.1 L1571.7,795.9 L1574.1,795.6 L1576.7,795.8 L1579.4,795.3 L1581.8,794.5 L1584.5,794.5 L1586.9,793.9 L1589.3,793.9 L1592.3,794.0 L1594.7,793.6 L1597.1,792.8 L1599.8,792.3 L1602.4,792.4 L1604.9,791.7 L1607.3,791.7 L1609.9,791.5 L1612.5,791.1 L1615.3,790.8 L1617.8,790.0 L1620.3,790.5 L1622.8,789.5 L1625.5,789.4 L1628.1,788.9 L1630.8,788.3 L1633.3,788.6 L1636.0,787.9 L1638.5,788.5 L1641.2,787.4 L1643.9,788.1 L1646.3,787.7 L1649.0,786.8 L1651.9,787.2 L1654.7,786.9 L1657.1,786.4 L1659.8,786.9 L1662.4,786.6 L1664.8,786.3 L1667.6,785.4 L1670.1,785.3 L1672.4,785.0 L1674.9,784.8 L1677.4,784.4 L1679.6,785.0 L1682.6,784.4 L1685.7,784.1 L1688.4,783.9 L1691.4,783.3 L1694.3,783.2 L1697.1,782.7 L1699.7,781.7 L1702.6,781.6 L1705.2,780.8 L1707.7,781.0 L1709.7,779.9 L1712.1,780.3 L1714.2,779.4 L1716.1,779.4 L1720.0,778.3 L1723.2,778.0 L1725.8,777.2 L1727.7,776.3 L1729.9,775.7 L1731.9,775.1 L1734.8,773.2 L1737.4,771.4 L1740.1,770.2 L1742.1,767.9 L1743.9,766.7 L1746.2,765.1 L1748.0,763.3 L1750.1,760.7 L1752.0,759.8 L1754.0,757.4 L1755.7,755.0 L1757.7,752.9 L1759.5,749.8 L1761.4,747.5 L1762.7,745.4 L1764.0,743.0 L1765.0,740.7 L1766.4,738.6 L1767.5,736.0 L1768.6,733.6 L1769.5,731.3 L1770.7,728.0 L1771.5,726.1 L1772.2,722.9 L1772.9,721.0 L1773.5,718.8 L1774.2,716.2 L1774.8,713.7 L1775.5,711.6 L1776.3,710.5 L1777.3,705.7 L1777.5,704.3 L1777.7,702.2 L1778.1,699.8 L1778.3,697.3 L1778.5,695.0 L1779.0,692.2 L1779.4,689.8 L1779.9,687.5 L1780.2,684.6 L1780.4,680.9 L1780.9,677.9 L1781.4,674.9 L1781.7,671.5 L1781.6,669.8 L1782.0,667.2 L1782.3,665.6 L1782.4,663.2 L1782.8,660.0 L1782.9,658.1 L1783.1,655.2 L1783.2,652.9 L1783.6,649.7 L1783.6,647.4 L1784.0,644.5 L1783.9,641.9 L1784.1,639.5 L1784.7,636.8 L1784.6,634.4 L1784.9,631.7 L1785.2,628.9 L1785.4,626.5 L1785.7,624.0 L1785.9,621.4 L1785.8,618.7 L1786.2,616.4 L1786.3,614.0 L1786.6,611.1 L1786.7,608.1 L1786.8,606.2 L1787.1,603.8 L1787.1,600.7 L1787.4,598.6 L1787.3,595.4 L1787.8,593.4 L1787.6,591.3 L1788.0,588.6 L1788.2,585.5 L1788.3,582.9 L1788.4,580.7 L1788.7,577.8 L1788.6,575.5 L1788.7,573.0 L1789.2,571.0 L1789.0,568.4 L1789.2,565.3 L1789.5,562.9 L1789.4,560.2 L1789.6,557.9 L1790.0,555.3 L1790.0,553.1 L1790.1,550.4 L1790.1,548.7 L1790.1,545.9 L1790.4,543.5 L1790.6,540.6 L1790.8,538.3 L1790.9,535.7 L1790.8,533.2 L1790.9,530.6 L1791.0,527.8 L1791.5,525.6 L1791.5,522.8 L1791.7,519.5 L1791.5,517.8 L1791.7,515.2 L1792.0,513.0 L1791.9,510.0 L1792.2,507.6 L1792.2,505.2 L1792.7,502.3 L1792.7,499.9 L1793.0,497.2 L1793.0,493.8 L1793.2,491.8 L1793.3,488.5 L1793.6,486.1 L1793.5,483.6 L1793.6,480.3 L1794.0,477.5 L1794.1,475.2 L1794.1,472.8 L1794.4,469.8 L1794.2,467.5 L1794.3,464.9 L1794.4,462.2 L1794.7,459.8 L1794.7,457.8 L1794.8,455.2 L1795.2,451.5 L1795.3,448.9 L1795.4,446.0 L1795.5,444.2 L1795.4,440.8 L1795.5,438.9 L1795.8,435.6 L1796.0,433.7 L1796.1,431.4 L1795.8,428.7 L1795.9,425.7 L1796.2,423.3 L1796.1,420.9 L1796.3,419.0 L1796.5,416.1 L1796.7,413.2 L1796.8,411.2 L1797.0,408.2 L1797.0,405.3 L1797.1,403.2 L1797.4,400.9 L1797.3,398.1 L1797.6,395.7 L1797.7,392.5 L1797.9,389.6 L1798.0,387.4 L1798.2,385.0 L1798.1,381.9 L1798.2,379.9 L1798.6,376.9 L1798.5,374.5 L1798.7,371.8 L1798.9,369.0 L1799.1,366.4 L1799.1,364.1 L1799.5,361.0 L1799.4,358.5 L1799.5,356.0 L1799.8,353.0 L1799.9,350.5 L1799.9,347.9 L1800.1,344.8 L1800.2,342.3 L1800.3,339.8 L1800.3,337.5 L1800.3,333.9 L1800.4,331.9 L1800.5,329.4 L1800.7,326.4 L1801.0,323.6 L1801.1,322.2 L1801.3,319.2 L1801.6,317.1 L1801.8,313.6 L1801.8,310.5 L1802.2,307.0 L1802.3,303.1 L1802.6,299.4 L1802.8,296.5 L1803.1,292.9 L1803.3,290.4 L1803.9,287.2 L1804.3,286.0 L1804.5,284.2 L1804.8,282.4 L1804.9,282.2 L1805.1,283.0 L1805.6,283.7 L1806.0,285.2 L1806.1,287.2 L1806.4,290.5 L1806.9,293.3 L1807.3,296.4 L1807.4,300.1 L1807.6,303.1 L1808.3,307.0 L1808.3,310.6 L1808.8,314.0 L1808.8,317.2 L1809.1,319.6 L1809.2,322.1 L1809.5,323.8 L1809.5,326.3 L1809.7,329.0 L1810.0,331.6 L1810.0,334.7 L1810.0,337.1 L1810.0,339.6 L1810.2,342.6 L1810.4,344.8 L1810.5,347.9 L1810.6,350.5 L1810.9,353.5 L1810.9,356.0 L1810.9,358.6 L1811.1,361.3 L1811.0,363.7 L1811.2,366.2 L1811.4,369.1 L1811.6,371.5 L1811.6,374.4 L1811.8,376.8 L1812.0,379.9 L1812.0,381.8 L1812.2,385.2 L1812.5,387.3 L1812.7,390.2 L1812.8,393.0 L1812.6,395.0 L1813.1,397.8 L1813.2,400.0 L1813.4,403.2 L1813.3,406.0 L1813.5,408.3 L1813.5,411.2 L1813.6,413.3 L1813.7,415.6 L1813.9,418.2 L1814.1,421.0 L1814.1,423.7 L1814.3,426.0 L1814.5,428.7 L1814.5,431.8 L1815.0,433.7 L1815.0,436.6 L1814.9,439.1 L1815.1,441.5 L1815.3,443.9 L1815.3,447.5 L1815.6,449.5 L1815.9,452.2 L1815.9,454.9 L1816.1,457.9 L1816.2,460.0 L1816.1,462.6 L1816.3,465.7 L1816.2,467.8 L1816.3,470.0 L1816.4,472.6 L1816.5,475.6 L1816.9,478.4 L1816.9,480.7 L1816.8,483.5 L1816.9,485.7 L1817.0,489.3 L1817.0,491.5 L1817.2,494.4 L1817.2,496.8 L1817.6,499.3 L1817.4,502.4 L1817.5,505.0 L1817.9,507.4 L1818.0,509.4 L1818.1,512.0 L1818.1,514.6 L1818.4,517.2 L1818.4,519.6 L1818.3,523.1 L1818.5,525.2 L1818.9,528.2 L1818.7,530.6 L1818.9,533.2 L1818.9,535.5 L1819.3,538.3 L1819.3,541.0 L1819.5,543.0 L1819.6,545.7 L1819.5,548.0 L1820.0,551.0 L1820.1,553.0 L1820.1,555.3 L1820.3,557.7 L1820.2,560.5 L1820.5,562.4 L1820.8,565.3 L1820.8,568.4 L1820.9,571.1 L1821.2,573.8 L1821.5,576.6 L1821.4,578.7 L1821.7,581.4 L1822.0,584.4 L1822.0,586.8 L1822.3,589.2 L1822.8,591.9 L1822.8,593.3 L1822.9,596.1 L1823.3,599.0 L1823.6,600.9 L1823.5,604.2 L1823.8,606.7 L1824.1,609.2 L1824.3,612.0 L1824.5,613.9 L1824.7,616.3 L1824.9,619.1 L1825.1,621.3 L1825.6,624.6 L1825.7,627.3 L1826.1,630.2 L1826.2,632.6 L1826.3,634.7 L1826.5,637.2 L1826.8,640.2 L1826.9,642.5 L1827.1,645.5 L1827.3,648.7 L1827.8,651.5 L1828.0,654.2 L1828.0,657.3 L1828.5,659.4 L1828.5,662.6 L1828.9,664.6 L1829.0,667.3 L1829.3,670.0 L1829.4,671.7 L1830.0,674.9 L1830.1,678.6 L1830.7,681.1 L1831.0,683.3 L1831.4,685.9 L1831.7,688.8 L1832.1,690.5 L1832.5,692.6 L1833.0,695.2 L1833.5,697.2 L1834.2,699.9 L1835.0,702.3 L1835.7,704.9 L1836.6,707.0 L1837.1,709.4 L1838.1,711.7 L1838.6,714.5 L1839.5,716.2 L1840.4,718.7 L1840.9,721.5 L1841.8,724.1 L1842.6,726.4 L1843.6,728.2 L1844.8,731.2 L1845.8,733.0 L1847.1,736.1 L1848.4,739.0 L1849.9,741.2 L1851.7,743.2 L1853.3,745.3 L1854.9,747.8 L1856.7,750.0 L1858.5,752.0 L1860.2,752.9 L1862.2,755.4 L1864.4,756.7 L1866.3,757.7 L1868.5,759.6 L1871.0,761.1 L1873.9,762.4 L1876.4,763.8 L1879.0,764.9 L1881.8,765.3 L1884.3,766.4 L1887.0,766.7 L1889.8,768.1 L1892.5,768.8 L1895.0,769.7 L1897.6,769.8 L1900.5,771.0 L1903.1,771.1 L1906.2,771.8 L1909.0,773.0 L1911.9,774.1 L1914.6,774.4 L1917.6,774.8 L1920.3,776.2 L1923.4,776.5 L1926.3,776.2 L1929.0,776.6 L1932.3,777.4 L1934.9,777.4 L1938.1,777.9 L1940.7,778.6 L1943.5,779.5 L1946.4,780.3 L1949.3,780.7 L1952.4,782.0 L1955.1,782.6 L1958.2,783.2 L1960.9,784.0 L1964.1,784.7 L1966.8,785.2 L1969.6,785.9 L1972.5,785.5 L1975.5,786.3 L1978.5,786.5 L1981.1,786.9 L1984.2,786.6 L1986.6,787.1 L1989.3,787.5 L1992.4,788.4 L1995.7,788.5 L1998.1,788.9 L2000.8,788.9 L2003.3,788.3 L2006.0,788.4 L2009.1,789.0 L2011.7,788.6 L2014.6,789.0 L2017.6,788.7 L2020.2,788.9 L2023.0,789.2 L2025.6,789.5 L2028.3,789.8 L2030.9,789.7 L2033.7,790.1 L2036.4,789.8 L2039.1,789.9 L2041.8,789.6 L2044.4,789.1 L2047.1,788.8 L2049.9,789.3 L2052.6,788.9 L2055.5,788.6 L2058.1,788.3 L2060.9,787.3 L2063.3,788.0 L2066.2,787.7 L2069.1,787.9 L2071.7,787.3 L2074.4,787.7 L2076.9,787.8 L2079.6,787.5 L2082.6,788.1 L2085.4,788.2 L2087.9,787.9 L2090.6,788.3 L2093.2,788.4 L2096.1,788.3 L2098.8,788.6 L2101.5,788.8 L2104.1,789.5 L2107.0,790.2 L2109.7,790.3 L2112.3,790.3 L2115.1,791.0 L2117.9,790.3 L2120.6,791.2 L2123.3,791.6 L2125.9,791.3 L2128.5,791.3 L2131.5,792.0 L2134.2,791.7 L2136.9,791.6 L2139.5,792.0 L2142.1,792.8 L2144.7,792.8 L2147.7,792.9 L2150.3,792.8 L2153.0,792.4 L2155.7,792.0 L2158.4,791.8 L2160.9,792.2 L2163.6,792.3 L2166.4,792.2 L2169.2,792.0 L2171.8,792.0 L2174.6,791.6 L2177.5,792.4 L2180.7,791.9 L2183.6,792.5 L2185.9,792.3 L2188.3,792.1 L2190.4,792.1 L2192.0,792.4" fill="none" stroke="#f00" stroke-width="6.8" stroke-linejoin="round" stroke-linecap="round" clip-path="url(#cr)"/>
<path d="M1242.6,286.5 L1244.4,285.5 L1246.4,286.9 L1249.2,286.0 L1251.8,285.4 L1254.8,284.6 L1257.9,285.5 L1260.6,284.7 L1263.7,284.7 L1266.4,285.7 L1269.5,283.7 L1271.7,284.0 L1274.7,284.9 L1277.8,284.6 L1280.4,284.7 L1283.0,284.8 L1285.6,284.7 L1288.0,285.4 L1291.4,284.3 L1293.8,284.4 L1296.3,285.0 L1299.6,286.5 L1302.5,285.6 L1305.3,286.9 L1307.5,287.6 L1310.1,286.4 L1312.7,287.1 L1314.8,287.6 L1317.3,287.5 L1320.4,286.7 L1323.1,287.1 L1325.8,287.9 L1328.0,289.5 L1330.7,287.8 L1333.6,288.2 L1336.2,288.8 L1338.9,289.0 L1341.3,288.4 L1344.4,288.9 L1346.9,290.0 L1349.1,288.7 L1352.2,288.3 L1354.8,289.1 L1356.9,288.7 L1359.8,288.5 L1362.7,290.1 L1365.6,290.2 L1367.8,290.1 L1370.9,289.1 L1373.4,290.7 L1375.4,291.5 L1378.2,289.5 L1380.9,290.8 L1383.3,291.1 L1386.4,290.7 L1389.5,291.5 L1392.5,292.2 L1395.3,292.5 L1398.0,291.6 L1399.9,291.7 L1402.8,293.1 L1405.0,292.5 L1407.8,293.1 L1410.3,292.6 L1412.6,294.6 L1415.7,295.0 L1417.6,296.1 L1419.9,296.7 L1422.7,298.0 L1424.6,297.2 L1427.2,297.6 L1430.3,299.6 L1432.2,300.1 L1434.9,302.0 L1437.8,300.7 L1440.9,302.2 L1443.7,304.0 L1446.2,304.4 L1449.9,304.5 L1452.0,306.2 L1454.4,307.1 L1457.3,307.9 L1460.5,307.7 L1462.4,307.8 L1464.8,308.7 L1467.6,307.5 L1470.0,306.8 L1472.1,307.8 L1474.9,307.3 L1477.3,306.6 L1480.1,305.6 L1483.0,306.3 L1486.7,305.8 L1489.8,304.4 L1491.9,304.3 L1494.3,304.2 L1496.5,305.4 L1499.4,303.5 L1502.0,303.3 L1504.9,303.2 L1507.7,303.3 L1510.2,303.0 L1512.7,301.6 L1515.5,302.6 L1517.4,302.2 L1520.4,302.4 L1523.0,302.2 L1525.4,302.2 L1528.4,302.6 L1531.0,301.7 L1534.0,302.3 L1536.0,303.0 L1539.2,303.9 L1541.0,303.0 L1543.8,303.3 L1546.4,304.0 L1549.6,306.3 L1552.3,306.5 L1554.2,306.4 L1557.6,306.6 L1560.0,309.0 L1562.5,308.7 L1565.6,310.0 L1567.8,310.9 L1570.4,310.1 L1573.3,310.8 L1576.2,311.7 L1579.2,313.3 L1581.9,313.9 L1584.1,313.9 L1587.2,314.6 L1589.3,314.9 L1592.2,314.8 L1595.1,312.7 L1597.9,313.8 L1600.1,313.7 L1603.0,312.8 L1605.8,312.1 L1608.6,311.4 L1610.6,311.0 L1613.1,311.3 L1616.3,309.9 L1618.5,309.9 L1621.5,310.2 L1623.5,310.3 L1626.5,309.9 L1629.2,309.0 L1631.6,309.9 L1634.2,309.4 L1637.0,310.3 L1639.0,309.4 L1641.9,309.4 L1645.5,310.8 L1647.4,311.8 L1650.2,311.4 L1653.2,311.2 L1655.3,312.0 L1658.1,314.0 L1660.3,314.6 L1663.3,313.9 L1665.5,314.9 L1668.3,315.6 L1671.3,316.0 L1674.6,315.4 L1677.0,316.3 L1679.8,316.3 L1682.9,316.4 L1684.7,317.6 L1687.0,316.8 L1690.2,316.7 L1692.7,318.4 L1695.4,317.6 L1697.6,316.9 L1699.7,316.4 L1703.1,316.8 L1706.1,316.5 L1709.1,317.3 L1711.7,316.0 L1713.9,315.1 L1716.3,313.8 L1719.1,313.7 L1721.1,312.3 L1723.5,310.7 L1726.1,309.2 L1729.1,309.4 L1732.2,308.3 L1735.1,307.8 L1737.9,307.8 L1740.2,306.0 L1741.9,305.3 L1744.9,302.5 L1746.8,302.1 L1749.7,302.2 L1753.0,300.3 L1755.6,299.0 L1758.8,298.7 L1761.0,296.9 L1763.3,296.0 L1765.7,294.3 L1768.2,294.5 L1770.9,293.2 L1772.4,291.8 L1774.2,288.8 L1776.4,288.1 L1778.4,285.7 L1780.2,284.9 L1782.4,282.7 L1784.3,281.7 L1786.2,278.3 L1787.6,277.2 L1789.0,274.0 L1790.9,272.0 L1791.4,270.3 L1793.0,268.6 L1794.7,266.4 L1796.3,263.9 L1797.2,260.8 L1798.7,258.7 L1800.0,256.0 L1800.9,253.3 L1802.0,251.5 L1803.6,248.7 L1804.0,245.2 L1805.6,244.2 L1806.4,241.5 L1807.0,238.7 L1808.0,234.4 L1809.0,233.7 L1809.8,230.3 L1810.5,227.5 L1811.7,225.5 L1812.8,222.1 L1813.6,218.9 L1815.0,216.8 L1815.9,215.1 L1816.5,211.5 L1818.3,209.8 L1819.2,207.6 L1820.1,204.4 L1821.1,202.9 L1823.1,199.3 L1824.3,198.4 L1826.2,195.3 L1829.1,195.0 L1831.5,193.5 L1833.6,193.9 L1836.0,194.7 L1838.8,197.7 L1840.4,199.9 L1842.0,201.5 L1844.6,202.8 L1845.5,206.3 L1846.5,209.6 L1847.7,210.3 L1848.4,213.9 L1849.5,216.2 L1850.6,219.2 L1851.6,221.7 L1853.0,223.1 L1854.1,227.0 L1855.5,227.6 L1856.0,230.8 L1857.6,233.7 L1858.3,236.0 L1859.3,239.0 L1860.3,240.4 L1861.0,243.4 L1861.9,245.1 L1862.8,247.7 L1864.2,250.9 L1865.1,252.9 L1865.6,254.5 L1866.5,257.1 L1868.1,259.8 L1869.3,263.3 L1871.5,264.2 L1873.1,267.8 L1874.3,270.0 L1875.9,271.4 L1877.2,275.1 L1878.5,278.0 L1880.2,278.2 L1881.1,282.0 L1882.9,284.1 L1884.5,286.8 L1885.9,288.0 L1887.9,291.1 L1889.9,293.1 L1891.6,295.7 L1893.4,297.1 L1896.2,300.4 L1897.5,301.8 L1899.6,303.9 L1902.1,306.4 L1903.3,307.8 L1906.1,308.9 L1907.5,309.9 L1909.5,312.9 L1911.5,312.8 L1913.9,315.9 L1916.1,315.3 L1919.2,316.8 L1921.1,318.9 L1923.3,320.0 L1925.9,321.8 L1927.7,324.8 L1930.2,326.8 L1931.5,327.2 L1934.0,328.6 L1935.9,329.7 L1938.2,333.3 L1940.6,333.1 L1942.7,334.7 L1945.3,336.8 L1947.4,340.3 L1949.7,342.1 L1952.0,342.3 L1954.2,343.9 L1956.6,346.5 L1958.9,347.9 L1960.9,351.2 L1963.4,352.7 L1965.4,353.6 L1967.7,354.9 L1970.3,356.9 L1972.0,358.4 L1974.5,360.3 L1977.2,362.6 L1979.2,364.7 L1981.2,364.8 L1983.8,366.8 L1985.9,367.1 L1988.4,369.7 L1990.2,371.3 L1992.5,371.0 L1995.1,371.8 L1997.2,373.2 L2000.3,374.9 L2003.4,376.8 L2006.1,376.5 L2008.5,376.8 L2010.9,377.8 L2013.8,377.5 L2016.7,378.8 L2019.7,378.2 L2022.5,378.1 L2024.8,378.0 L2027.8,377.8 L2030.1,377.3 L2033.2,378.6 L2035.3,377.9 L2038.0,378.1 L2041.1,375.9 L2043.5,377.1 L2046.6,376.3 L2048.9,376.8 L2052.3,376.6 L2055.0,375.2 L2057.3,376.7 L2060.4,376.7 L2063.2,376.0 L2065.4,377.8 L2068.5,379.2 L2071.2,379.1 L2074.0,381.1 L2076.7,381.5 L2078.7,382.8 L2081.4,382.8 L2084.5,384.0 L2087.4,384.8 L2089.5,385.3 L2093.0,384.4 L2095.0,384.9 L2098.0,384.8 L2101.1,385.5 L2103.4,384.1 L2106.3,385.6 L2109.3,386.0 L2111.5,386.4 L2114.7,387.2 L2117.0,386.3 L2119.5,387.1 L2122.3,389.9 L2125.2,389.2 L2127.6,391.5 L2131.0,393.3 L2133.6,393.6 L2135.8,394.4 L2139.0,394.9 L2141.1,396.6 L2143.8,396.8 L2146.5,397.2 L2149.6,399.0 L2152.6,397.8 L2155.4,399.0 L2157.3,399.3 L2160.4,400.7 L2162.9,400.6 L2165.9,402.6 L2168.9,401.5 L2171.6,402.9 L2174.4,403.8 L2176.7,405.6 L2179.8,406.5 L2182.5,406.7 L2184.9,407.1 L2187.8,409.4 L2190.5,409.9 L2192.0,411.4" fill="none" stroke="#00f" stroke-width="6.8" stroke-linejoin="round" stroke-linecap="round" clip-path="url(#cr)"/>
<line x1="532.4" y1="111.8" x2="532.4" y2="1442" stroke="#000" stroke-width="4.8" stroke-dasharray="20.3 14.15"/>
<line x1="1795.5" y1="113.1" x2="1795.5" y2="1443" stroke="#000" stroke-width="4.8" stroke-dasharray="20 14.45"/>
<line x1="98" y1="717" x2="98" y2="795" stroke="#000" stroke-width="2.2"/>
<line x1="655" y1="768" x2="655" y2="846.6" stroke="#000" stroke-width="2.2"/>
<line x1="974" y1="820" x2="974" y2="897" stroke="#000" stroke-width="2.2"/>
<line x1="1639.3" y1="264" x2="1639.3" y2="343.3" stroke="#000" stroke-width="2.2"/>
<line x1="2054.3" y1="328" x2="2054.3" y2="407" stroke="#000" stroke-width="2.2"/>
<line x1="1326.7" y1="1241.8" x2="1326.7" y2="1321" stroke="#000" stroke-width="2.2"/>
<line x1="1630" y1="1204" x2="1630" y2="1282" stroke="#000" stroke-width="2.2"/>
<line x1="2054.5" y1="1181" x2="2054.5" y2="1261" stroke="#000" stroke-width="2.2"/>
<rect x="804" y="329" width="724" height="391" fill="#000"/>
<rect x="808" y="333" width="716" height="383" fill="#fff"/>
<line x1="879.4" y1="434.4" x2="1044.5" y2="434.4" stroke="#000" stroke-width="7" stroke-linecap="round"/>
<line x1="879.4" y1="524.4" x2="1044.5" y2="524.4" stroke="#f00" stroke-width="7" stroke-linecap="round"/>
<line x1="879.4" y1="615.2" x2="1044.5" y2="615.2" stroke="#00f" stroke-width="7" stroke-linecap="round"/>
<g font-family='"Liberation Sans", Arial, sans-serif' fill="#000" style="font-kerning:none" filter="url(#bin)">
<text transform="translate(122.59,162.70) scale(1,1.0465)" font-size="158.20">A</text>
<text transform="translate(2005.90,164.00) scale(1,1.0366)" font-size="159.71">B</text>
<text transform="translate(454.40,93.97) scale(1,1.0591)" font-size="60.81">462.9</text>
<text transform="translate(1721.41,96.58) scale(1,1.0529)" font-size="60.64">461.5</text>
<text transform="translate(49.40,699.07) scale(1,1.0537)" font-size="61.12">622</text>
<text transform="translate(607.30,748.78) scale(1,1.0443)" font-size="61.13">419</text>
<text transform="translate(926.97,802.27) scale(1,1.0540)" font-size="61.10">301</text>
<text transform="translate(1594.69,257.08) scale(1,1.0640)" font-size="60.13">587</text>
<text transform="translate(2005.84,309.07) scale(1,1.0595)" font-size="60.92">260</text>
<text transform="translate(1273.96,1228.96) scale(1,1.0782)" font-size="60.78">830</text>
<text transform="translate(1586.48,1189.36) scale(1,1.0769)" font-size="60.46">590</text>
<text transform="translate(2007.64,1170.57) scale(1,1.0665)" font-size="60.92">260</text>
<text transform="translate(89.53,1541.99) scale(1,1.0364)" font-size="80.13">600</text>
<text transform="translate(363.45,1541.99) scale(1,1.0543)" font-size="78.77">500</text>
<text transform="translate(632.56,1541.99) scale(1,1.0358)" font-size="80.18">400</text>
<text transform="translate(905.50,1541.99) scale(1,1.0531)" font-size="78.87">300</text>
<text transform="translate(1302.89,1541.99) scale(1,1.0588)" font-size="78.44">800</text>
<text transform="translate(1553.39,1541.99) scale(1,1.0267)" font-size="80.89">600</text>
<text transform="translate(1807.76,1541.99) scale(1,1.0358)" font-size="80.18">400</text>
<text transform="translate(2059.96,1541.99) scale(1,1.0326)" font-size="80.43">200</text>
<text transform="translate(229.89,1640.00) scale(1,1.0336)" font-size="86.63">Raman shift, cm</text>
<text transform="translate(1449.91,1635.00) scale(1,1.0420)" font-size="86.49">Raman shift, cm</text>
<text transform="translate(852.50,1592.80) scale(1,1.0300)" font-size="52.00">-1</text>
<text transform="translate(2072.30,1587.50) scale(1,1.0300)" font-size="52.00">-1</text>
<text transform="translate(1065.17,459.70) scale(1,1.0399)" font-size="73.38">Ce/Al</text>
<text transform="translate(1065.19,549.70) scale(1,1.0352)" font-size="73.72">3.8Fe/Ce/Al</text>
<text transform="translate(1064.54,640.20) scale(1,1.0334)" font-size="73.84">9.9Fe/Ce/Al</text>
</g>
<rect x="1793.00" y="91.59" width="11.10" height="5.99" fill="#fff"/>
<rect x="1809.46" y="91.59" width="10.48" height="5.99" fill="#fff"/>
<rect x="645.48" y="743.79" width="11.19" height="5.99" fill="#fff"/>
<rect x="662.07" y="743.79" width="10.57" height="5.99" fill="#fff"/>
<rect x="999.11" y="797.24" width="11.19" height="6.03" fill="#fff"/>
<rect x="1015.70" y="797.24" width="10.56" height="6.03" fill="#fff"/>
<rect x="873.37" y="1588.62" width="9.52" height="5.18" fill="#fff"/>
<rect x="887.49" y="1588.62" width="8.99" height="5.18" fill="#fff"/>
<rect x="2093.17" y="1583.32" width="9.52" height="5.18" fill="#fff"/>
<rect x="2107.29" y="1583.32" width="8.99" height="5.18" fill="#fff"/>
</svg>
</body></html>
